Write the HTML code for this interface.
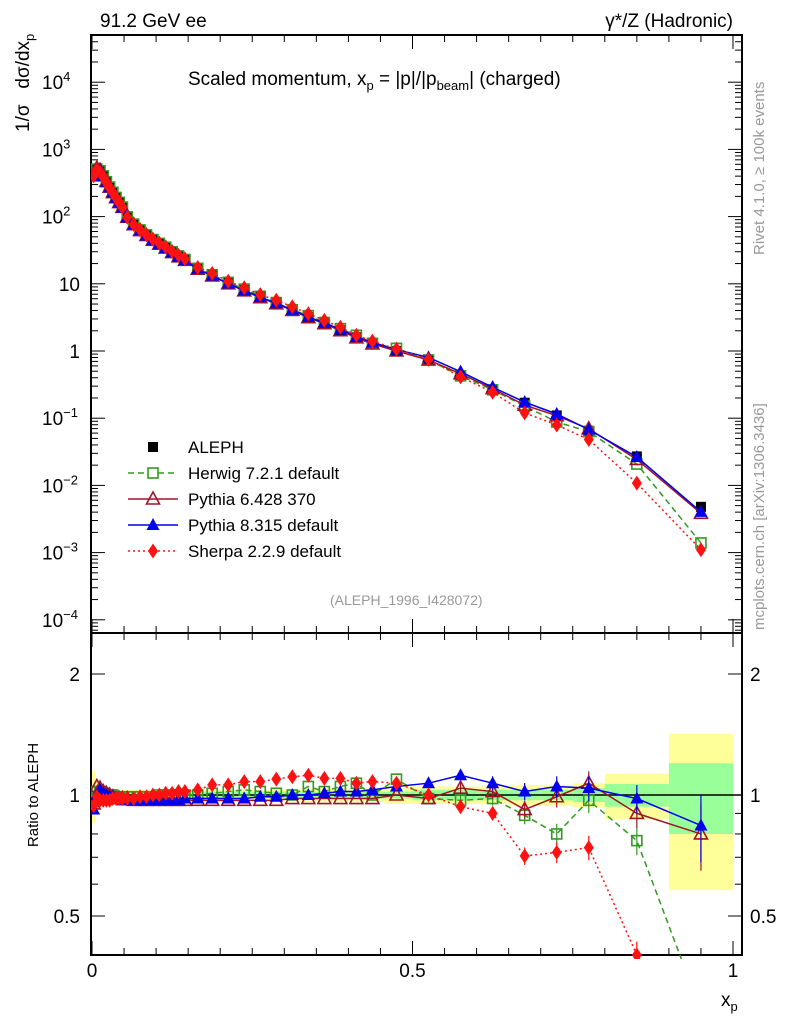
<!DOCTYPE html>
<html><head><meta charset="utf-8"><style>
html,body{margin:0;padding:0;background:#fff;width:786px;height:1024px;overflow:hidden}
svg{font-family:"Liberation Sans",sans-serif;display:block}
</style></head><body>
<svg id="c" width="786" height="1024">
<g id="bands"></g>
<g id="axes"></g>
<g id="series"></g>
<text x="100" y="27" font-size="19">91.2 GeV ee</text>
<text x="733" y="27" font-size="19" text-anchor="end">γ*/Z (Hadronic)</text>
<text x="188" y="85" font-size="19">Scaled momentum, x<tspan font-size="13" dy="5">p</tspan><tspan dy="-5"> = |p|/|p</tspan><tspan font-size="13" dy="5">beam</tspan><tspan dy="-5">| (charged)</tspan></text>
<text transform="translate(29,132) rotate(-90)" font-size="19" text-anchor="start" xml:space="preserve">1/σ   dσ/dx<tspan font-size="13" dy="5">p</tspan></text>
<text transform="translate(764,255) rotate(-90)" font-size="15" fill="#999">Rivet 4.1.0, ≥ 100k events</text>
<text transform="translate(764,630) rotate(-90)" font-size="15" fill="#999">mcplots.cern.ch [arXiv:1306.3436]</text>
<text x="330" y="605" font-size="14" fill="#999">(ALEPH_1996_I428072)</text>
<text transform="translate(38,795) rotate(-90)" font-size="15" text-anchor="middle">Ratio to ALEPH</text>
<text x="721" y="1006" font-size="19">x<tspan font-size="13" dy="5">p</tspan></text>
<g id="legend"></g>
</svg>
<script>
const xs=[0.0025,0.0075,0.0125,0.0175,0.0225,0.0275,0.0325,0.0375,0.0425,0.0475,0.055,0.065,0.075,0.085,0.095,0.105,0.115,0.125,0.135,0.145,0.165,0.1875,0.2125,0.2375,0.2625,0.2875,0.3125,0.3375,0.3625,0.3875,0.4125,0.4375,0.475,0.525,0.575,0.625,0.675,0.725,0.775,0.85,0.95];
const aleph=[430,500,470,400,330,275,230,195,165,140,100,78,64,54,46,40,35,30,26,23,17,13.5,10.3,8.1,6.4,5.2,4.1,3.2,2.6,2.05,1.6,1.3,1.0,0.75,0.44,0.27,0.17,0.11,0.065,0.027,0.0048];
const errTot=[0.15,0.08,0.06,0.05,0.04,0.04,0.03,0.03,0.03,0.03,0.03,0.03,0.03,0.03,0.03,0.03,0.03,0.03,0.03,0.03,0.03,0.03,0.03,0.03,0.03,0.03,0.03,0.04,0.04,0.04,0.04,0.04,0.05,0.05,0.05,0.05,0.06,0.06,0.07,0.13,0.42];
const errStat=[0.06,0.03,0.02,0.02,0.02,0.02,0.02,0.02,0.02,0.02,0.02,0.02,0.02,0.02,0.02,0.02,0.02,0.02,0.02,0.02,0.02,0.02,0.02,0.02,0.02,0.02,0.02,0.02,0.02,0.02,0.02,0.02,0.02,0.03,0.03,0.03,0.03,0.03,0.04,0.065,0.2];
const rHerwig=[0.97,1.02,1.02,1.01,1.0,1.0,1.0,0.99,0.99,0.99,0.99,0.99,0.99,0.99,0.99,1.0,1.0,1.0,1.0,1.0,1.0,1.01,1.02,1.03,1.02,1.01,1.0,1.05,1.02,1.05,1.07,1.0,1.095,0.98,0.97,0.98,0.89,0.80,0.97,0.77,0.29];
const rPy6=[0.95,1.05,1.04,1.02,1.01,1.0,0.99,0.98,0.98,0.98,0.98,0.97,0.97,0.97,0.97,0.97,0.97,0.97,0.97,0.97,0.97,0.97,0.97,0.97,0.97,0.97,0.98,0.98,0.98,0.98,0.98,0.98,1.0,0.98,1.04,1.02,0.92,0.99,1.07,0.90,0.80];
const rPy8=[0.92,1.0,1.03,1.01,1.0,0.99,0.99,0.98,0.98,0.97,0.97,0.97,0.97,0.97,0.97,0.97,0.97,0.97,0.97,0.98,0.98,0.98,0.98,0.98,0.99,0.99,1.0,1.0,1.01,1.02,1.02,1.03,1.05,1.07,1.12,1.07,1.02,1.05,1.04,0.98,0.84];
const rSherpa=[0.94,0.99,0.97,0.97,0.97,0.97,0.98,0.98,0.98,0.98,0.98,0.98,0.99,0.99,1.0,1.0,1.01,1.01,1.02,1.02,1.03,1.06,1.06,1.08,1.08,1.095,1.11,1.12,1.10,1.10,1.07,1.08,1.07,1.0,0.935,0.90,0.705,0.72,0.74,0.40,0.23];
const NS='http://www.w3.org/2000/svg';
const X0=92,X1=733;
const sx=v=>X0+(X1-X0)*v;
const sy=v=>351-67.2*Math.log10(v);
const sr=v=>795-402*Math.log10(v);
const MT=35,MB=633,RT=633,RB=955,FL=91,FR=742;
function mk(tag,at,par){const e=document.createElementNS(NS,tag);for(const k in at)e.setAttribute(k,at[k]);document.getElementById(par).appendChild(e);return e;}
const edges=[0];for(let i=0;i<xs.length-1;i++)edges.push((xs[i]+xs[i+1])/2);edges.push(1);
for(let i=0;i<xs.length;i++){
 let a=edges[i],b=edges[i+1];if(i==xs.length-1)a=0.9;if(i==xs.length-2){a=0.8;b=0.9;}
 const y1=sr(Math.min(1+errTot[i],2.5)),y2=sr(Math.max(1-errTot[i],0.4));
 let e=mk('rect',{x:sx(a),y:y1,width:sx(b)-sx(a),height:y2-y1,fill:'#ffff99'},'bands');
 
 
 const g1=sr(1+errStat[i]),g2=sr(1-errStat[i]);
 e=mk('rect',{x:sx(a),y:g1,width:sx(b)-sx(a),height:g2-g1,fill:'#99ff99'},'bands');
 
 
}
function line(x1,y1,x2,y2,w,par){return mk('line',{x1,y1,x2,y2,stroke:'#000','stroke-width':w||1},par||'axes');}
let f=mk('rect',{x:FL,y:MT,width:FR-FL,height:MB-MT,fill:'none',stroke:'#000','stroke-width':2},'axes');


f=mk('rect',{x:FL,y:RT,width:FR-FL,height:RB-RT,fill:'none',stroke:'#000','stroke-width':2},'axes');


line(FL,sr(1),FR,sr(1),1.5);
for(let k=0;k<=20;k++){const v=k*0.05,x=sx(v),L=(k%10==0)?14:7;
 line(x,MB,x,MB-L);line(x,MT,x,MT+L);line(x,RB,x,RB-L);line(x,RT,x,RT+L);}
const xt=['0','0.5','1'];
[0,0.5,1].forEach((v,i)=>{const t=mk('text',{x:sx(v),y:977,'font-size':19,'text-anchor':'middle'},'axes');t.textContent=xt[i];
 
 });
for(let d=-5;d<=4;d++)for(let m=1;m<10;m++){const v=m*Math.pow(10,d),y=sy(v);if(y<MT||y>MB)continue;const L=m==1?14:7;
 line(FL,y,FL+L,y);line(FR,y,FR-L,y);}
const ylab=[[4,'10','4'],[3,'10','3'],[2,'10','2'],[1,'10',''],[0,'1',''],[-1,'10','−1'],[-2,'10','−2'],[-3,'10','−3'],[-4,'10','−4']];
ylab.forEach(l=>{const t=mk('text',{x:80,y:sy(Math.pow(10,l[0]))+7,'font-size':19,'text-anchor':'end'},'axes');
 t.textContent=l[1];if(l[2]){const s=document.createElementNS(NS,'tspan');s.setAttribute('font-size','13');s.setAttribute('dy','-8');s.textContent=l[2];t.appendChild(s);t.setAttribute('text-anchor','start');t.setAttribute('x',42);}
 
 });
[0.4,0.5,0.6,0.7,0.8,0.9,1,2].forEach(v=>{const y=sr(v),L=(v==0.5||v==1||v==2)?14:7;line(FL,y,FL+L,y);line(FR,y,FR-L,y);});
[[2,'2'],[1,'1'],[0.5,'0.5']].forEach(l=>{let t=mk('text',{x:80,y:sr(l[0])+7,'font-size':19,'text-anchor':'end'},'axes');t.textContent=l[1];
 
 
 t=mk('text',{x:750,y:sr(l[0])+7,'font-size':19},'axes');t.textContent=l[1];
 
 });
function marker(type,x,y,col,par){
 if(type=='sq')return mk('rect',{x:x-5,y:y-5,width:10,height:10,fill:col},par);
 if(type=='osq')return mk('rect',{x:x-5,y:y-5,width:10,height:10,fill:'#fff','fill-opacity':0,stroke:col,'stroke-width':1.6},par);
 if(type=='otri')return mk('polygon',{points:`${x},${y-7} ${x-6.5},${y+5} ${x+6.5},${y+5}`,fill:'none',stroke:col,'stroke-width':1.6},par);
 if(type=='tri')return mk('polygon',{points:`${x},${y-7} ${x-6.5},${y+5} ${x+6.5},${y+5}`,fill:col},par);
 if(type=='dia')return mk('polygon',{points:`${x},${y-7.5} ${x-5},${y} ${x},${y+7.5} ${x+5},${y}`,fill:col},par);
}
const S=[
 {name:'herwig',r:rHerwig,col:'#339922',dash:'6,4',m:'osq',label:'Herwig 7.2.1 default'},
 {name:'pythia6',r:rPy6,col:'#a01428',dash:'',m:'otri',label:'Pythia 6.428 370'},
 {name:'pythia8',r:rPy8,col:'#0000ee',dash:'',m:'tri',label:'Pythia 8.315 default'},
 {name:'sherpa',r:rSherpa,col:'#ff1111',dash:'2,3',m:'dia',label:'Sherpa 2.2.9 default'}];
const defs=mk('defs',{},'c');
let cp=document.createElementNS(NS,'clipPath');cp.id='cm';defs.appendChild(cp);
let r=document.createElementNS(NS,'rect');r.setAttribute('x',FL);r.setAttribute('y',MT);r.setAttribute('width',FR-FL);r.setAttribute('height',MB-MT);cp.appendChild(r);
cp=document.createElementNS(NS,'clipPath');cp.id='cr';defs.appendChild(cp);
r=document.createElementNS(NS,'rect');r.setAttribute('x',FL);r.setAttribute('y',RT);r.setAttribute('width',FR-FL);r.setAttribute('height',RB-RT+4);cp.appendChild(r);
const gm=mk('g',{'clip-path':'url(#cm)',id:'gm'},'series');


const gr=mk('g',{'clip-path':'url(#cr)',id:'gr'},'series');


xs.forEach((x,i)=>{const e=marker('sq',sx(x),sy(aleph[i]),'#000','gm');
 
 });
S.forEach(s=>{
 const pm=xs.map((x,i)=>sx(x)+','+sy(aleph[i]*s.r[i])).join(' ');
 let p=mk('polyline',{points:pm,fill:'none',stroke:s.col,'stroke-width':1.5,'stroke-dasharray':s.dash},'gm');
 
 
 const pr=xs.map((x,i)=>sx(x)+','+sr(s.r[i])).join(' ');
 p=mk('polyline',{points:pr,fill:'none',stroke:s.col,'stroke-width':1.5,'stroke-dasharray':s.dash},'gr');
 
 
 xs.forEach((x,i)=>{
  let e=marker(s.m,sx(x),sy(aleph[i]*s.r[i]),s.col,'gm');
  
  
  if(i>=33){const er=0.02+0.01*(i-33)+(i==40?0.1:0);line(sx(x),sr(s.r[i]*(1+er)),sx(x),sr(s.r[i]*(1-er)),1.2,'gr').setAttribute('stroke',s.col);}
  e=marker(s.m,sx(x),sr(s.r[i]),s.col,'gr');
  
  
 });
});
const ly=[447,473,499,525,551];
let e=marker('sq',153,ly[0],'#000','legend');


let t=mk('text',{x:188,y:ly[0]+6,'font-size':17},'legend');t.textContent='ALEPH';


S.forEach((s,i)=>{const y=ly[i+1];
 let l=mk('line',{x1:128,y1:y,x2:178,y2:y,stroke:s.col,'stroke-width':1.5,'stroke-dasharray':s.dash},'legend');
 
 
 let m=marker(s.m,153,y,s.col,'legend');
 if(s.m=='osq')m.setAttribute('fill-opacity','1');
 
 
 let tt=mk('text',{x:188,y:y+6,'font-size':17},'legend');tt.textContent=s.label;
 
 
});
</script>
</body></html>
